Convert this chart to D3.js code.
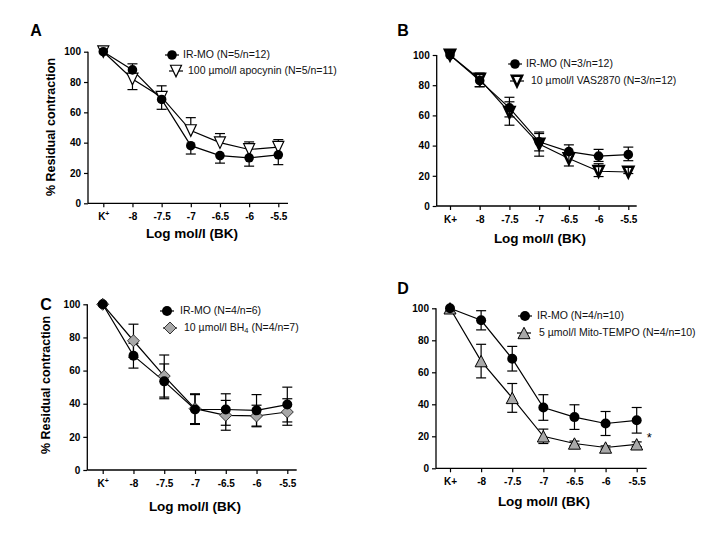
<!DOCTYPE html>
<html><head><meta charset="utf-8">
<script src="https://cdn.jsdelivr.net/npm/d3@7"></script>
<style>body{margin:0;background:#fff}svg{display:block}text{font-family:"Liberation Sans",Arial,sans-serif}</style>
</head><body><svg id="c" width="720" height="540"></svg>
<script>
// categories
const catsSup = ["K+","-8","-7.5","-7","-6.5","-6","-5.5"];
const yTicks = [0,20,40,60,80,100];

// Panel A
const aIrVals = [100, 88, 68.5, 38, 31.5, 30, 32];
const aIrUp   = [0, 4, 0, 0, 0, 0, 0];
const aIrDn   = [0, 0, 6.5, 5.5, 5, 5.5, 6.5];
const aApVals = [100, 82, 70, 48, 40, 35.5, 37];
const aApUp   = [0, 0, 7.5, 8.5, 6, 5, 5];
const aApDn   = [0, 7, 0, 0, 0, 0, 0];
// Panel B
const bIrVals = [100, 83, 65, 42.5, 36, 33, 34];
const bIrUp   = [0, 4, 7, 6.5, 4.5, 4.5, 5];
const bIrDn   = [0, 4, 6, 6, 3, 3.5, 4];
const bVaVals = [100, 84, 62, 41, 31.5, 23, 22.5];
const bVaUp   = [0, 4, 7, 7, 4, 5, 0];
const bVaDn   = [0, 5, 8.5, 8, 5, 3.5, 1];
// Panel C
const cIrVals = [100, 69, 53.5, 36.5, 36.5, 36, 39.5];
const cIrErr  = [0, 7.5, 10.5, 9, 9.5, 9.5, 10.5];
const cBhVals = [100, 78, 56.7, 37, 33, 32.6, 35];
const cBhErr  = [0, 10, 12.7, 9, 9, 6.5, 8];
// Panel D
const dIrVals = [100, 92.5, 68.5, 38, 32, 28, 30];
const dIrErr  = [0, 6, 7.7, 8, 7.7, 7.5, 8];
const dMtVals = [100, 67, 44, 20, 15.5, 13, 15];
const dMtErr  = [0, 10.5, 9, 4.5, 1.5, 1, 1.5];

const svg = d3.select("#c");

const panels = [
  {title:"A", tx:36, ty:32, x0:88, x1:288, f:103.3, l:278.3, yt:51.7, yb:203.3, kSup:true,
   ylab:{x:52,y:127}, xlab:{x:192,y:238},
   series:[
     {name:"IR-MO (N=5/n=12)", vals:aIrVals, up:aIrUp, dn:aIrDn, shape:"circle", fill:"#000", r:4.8},
     {name:"100 µmol/l apocynin (N=5/n=11)", vals:aApVals, up:aApUp, dn:aApDn, shape:"tridown", fill:"#fff", r:5.5, sw:1.2}
   ], leg:[{mx:172,my:55,tx:183},{mx:176,my:71,tx:188}]},
  {title:"B", tx:403, ty:32, x0:436.7, x1:636.7, f:450, l:628.3, yt:55, yb:206, kSup:false,
   ylab:null, xlab:{x:540,y:243},
   series:[
     {name:"IR-MO (N=3/n=12)", vals:bIrVals, up:bIrUp, dn:bIrDn, shape:"circle", fill:"#000", r:4.8},
     {name:"10 µmol/l VAS2870 (N=3/n=12)", vals:bVaVals, up:bVaUp, dn:bVaDn, shape:"tridown", fill:"#fff", r:5, sw:2.6}
   ], leg:[{mx:515,my:64,tx:526},{mx:517,my:81,tx:531}]},
  {title:"C", tx:46, ty:306, x0:87.3, x1:296.7, f:102.7, l:287.3, yt:304.3, yb:470, kSup:true,
   ylab:{x:47,y:385}, xlab:{x:195,y:511},
   series:[
     {name:"IR-MO (N=4/n=6)", vals:cIrVals, up:cIrErr, dn:cIrErr, shape:"circle", fill:"#000", r:5},
     {name:"BH4", vals:cBhVals, up:cBhErr, dn:cBhErr, shape:"diamond", fill:"#a8a8a8", r:6, sw:1}
   ], leg:[{mx:167,my:311,tx:180},{mx:170,my:328,tx:184}]},
  {title:"D", tx:403, ty:290, x0:436, x1:646.7, f:450, l:636.7, yt:308.3, yb:468.3, kSup:false,
   ylab:null, xlab:{x:544,y:506},
   series:[
     {name:"IR-MO (N=4/n=10)", vals:dIrVals, up:dIrErr, dn:dIrErr, shape:"circle", fill:"#000", r:5},
     {name:"5 µmol/l Mito-TEMPO (N=4/n=10)", vals:dMtVals, up:dMtErr, dn:dMtErr, shape:"triup", fill:"#a8a8a8", r:6, sw:1}
   ], leg:[{mx:525,my:316,tx:537},{mx:524,my:333,tx:539}], star:true}
];

function marker(g, s, x, y){
  const r = s.r;
  if(s.shape==="circle"){
    g.append("circle").attr("cx",x).attr("cy",y).attr("r",r).attr("fill","#000");
  } else if(s.shape==="tridown"){
    const h=r*1.05;
    g.append("path").attr("d",`M${x-r},${y-h}L${x+r},${y-h}L${x},${y+h}Z`)
      .attr("fill",s.fill).attr("stroke","#000").attr("stroke-width",s.sw).attr("stroke-linejoin","miter");
  } else if(s.shape==="triup"){
    const h=r*0.95;
    g.append("path").attr("d",`M${x-r},${y+h}L${x+r},${y+h}L${x},${y-h}Z`)
      .attr("fill",s.fill).attr("stroke","#000").attr("stroke-width",s.sw);
  } else if(s.shape==="diamond"){
    g.append("path").attr("d",`M${x-r},${y}L${x},${y-r}L${x+r},${y}L${x},${y+r}Z`)
      .attr("fill",s.fill).attr("stroke","#333").attr("stroke-width",s.sw);
  }
}

panels.forEach(p=>{
  const g = svg.append("g");
  const x = d3.scalePoint().domain(catsSup).range([p.f,p.l]);
  const y = d3.scaleLinear().domain([0,100]).range([p.yb,p.yt]);

  // axes
  g.append("line").attr("x1",p.x0).attr("x2",p.x0).attr("y1",p.yb).attr("y2",p.yt).attr("stroke","#000").attr("stroke-width",1.3);
  g.append("line").attr("x1",p.x0).attr("x2",p.x1).attr("y1",p.yb).attr("y2",p.yb).attr("stroke","#000").attr("stroke-width",1.3);
  const ya = d3.axisLeft(y).tickValues(yTicks).tickSize(4).tickPadding(3);
  const yg = g.append("g").attr("transform",`translate(${p.x0},0)`).call(ya);
  yg.select(".domain").remove();
  yg.selectAll("text").attr("font-size",10).attr("font-weight","bold").attr("font-family","Liberation Sans, Arial, sans-serif");
  yg.selectAll("line").attr("stroke-width",1.2);
  const xa = d3.axisBottom(x).tickSize(4).tickPadding(6).tickFormat(d=>d);
  const xg = g.append("g").attr("transform",`translate(0,${p.yb})`).call(xa);
  xg.select(".domain").remove();
  xg.selectAll("line").attr("stroke-width",1.2);
  xg.selectAll("text").attr("font-size",10).attr("font-weight","bold").attr("font-family","Liberation Sans, Arial, sans-serif");
  if(p.kSup){
    xg.selectAll("text").filter(d=>d==="K+").text(null).call(t=>{
      t.append("tspan").text("K");
      t.append("tspan").text("+").attr("font-size",7).attr("dy","-4");
    });
  }

  // title
  g.append("text").attr("x",p.tx).attr("y",p.ty).attr("text-anchor","middle").attr("dominant-baseline","middle")
   .attr("font-size",16).attr("font-weight","bold").text(p.title);
  if(p.ylab){
    g.append("text").attr("transform",`translate(${p.ylab.x},${p.ylab.y}) rotate(-90)`).attr("text-anchor","middle")
     .attr("dominant-baseline","middle").attr("font-size",12.5).attr("font-weight","bold").text("% Residual contraction");
  }
  g.append("text").attr("x",p.xlab.x).attr("y",p.xlab.y).attr("text-anchor","middle").attr("font-size",13.5)
   .attr("font-weight","bold").text("Log mol/l (BK)");

  const line = d3.line().x((d,i)=>x(catsSup[i])).y(d=>y(d));
  // error bars
  p.series.forEach(s=>{
    s.vals.forEach((v,i)=>{
      const cx=x(catsSup[i]);
      const parts=[];
      if(s.up[i]>0) parts.push(v+s.up[i]);
      if(s.dn[i]>0) parts.push(v-s.dn[i]);
      parts.forEach(e=>{
        g.append("line").attr("x1",cx).attr("x2",cx).attr("y1",y(v)).attr("y2",y(e)).attr("stroke","#000").attr("stroke-width",1.2);
        g.append("line").attr("x1",cx-5).attr("x2",cx+5).attr("y1",y(e)).attr("y2",y(e)).attr("stroke","#000").attr("stroke-width",1.2);
      });
    });
  });
  p.series.forEach(s=>{
    g.append("path").attr("d",line(s.vals)).attr("fill","none").attr("stroke","#000").attr("stroke-width",1.2);
  });
  p.series.slice().reverse().forEach(s=>{
    s.vals.forEach((v,i)=>marker(g,s,x(catsSup[i]),y(v)));
  });
  // B: error bar visible through the hollow triangle
  if(p.title==="B"){
    const s=p.series[1];
    s.vals.forEach((v,i)=>{
      const cx=x(catsSup[i]);
      if(s.dn[i]>0) g.append("line").attr("x1",cx).attr("x2",cx).attr("y1",y(v)-4).attr("y2",y(v)+4).attr("stroke","#000").attr("stroke-width",1.2);
    });
  }

  // legend
  p.series.forEach((s,k)=>{
    const L=p.leg[k];
    g.append("line").attr("x1",L.mx-7).attr("x2",L.mx+7).attr("y1",L.my).attr("y2",L.my).attr("stroke","#000").attr("stroke-width",1.2);
    marker(g,s,L.mx,L.my);
    const t=g.append("text").attr("x",L.tx).attr("y",L.my).attr("dominant-baseline","middle").attr("font-size",10.5).attr("fill","#111");
    if(s.name==="BH4"){
      t.append("tspan").text("10 µmol/l BH");
      t.append("tspan").text("4").attr("font-size",7.5).attr("dy",3);
      t.append("tspan").text(" (N=4/n=7)").attr("dy",-3);
    } else t.text(s.name);
  });
  if(p.star){
    const s=p.series[1];
    g.append("text").attr("x",x(catsSup[6])+10).attr("y",y(s.vals[6])-2).attr("font-size",13).text("*");
  }
});
</script></body></html>
